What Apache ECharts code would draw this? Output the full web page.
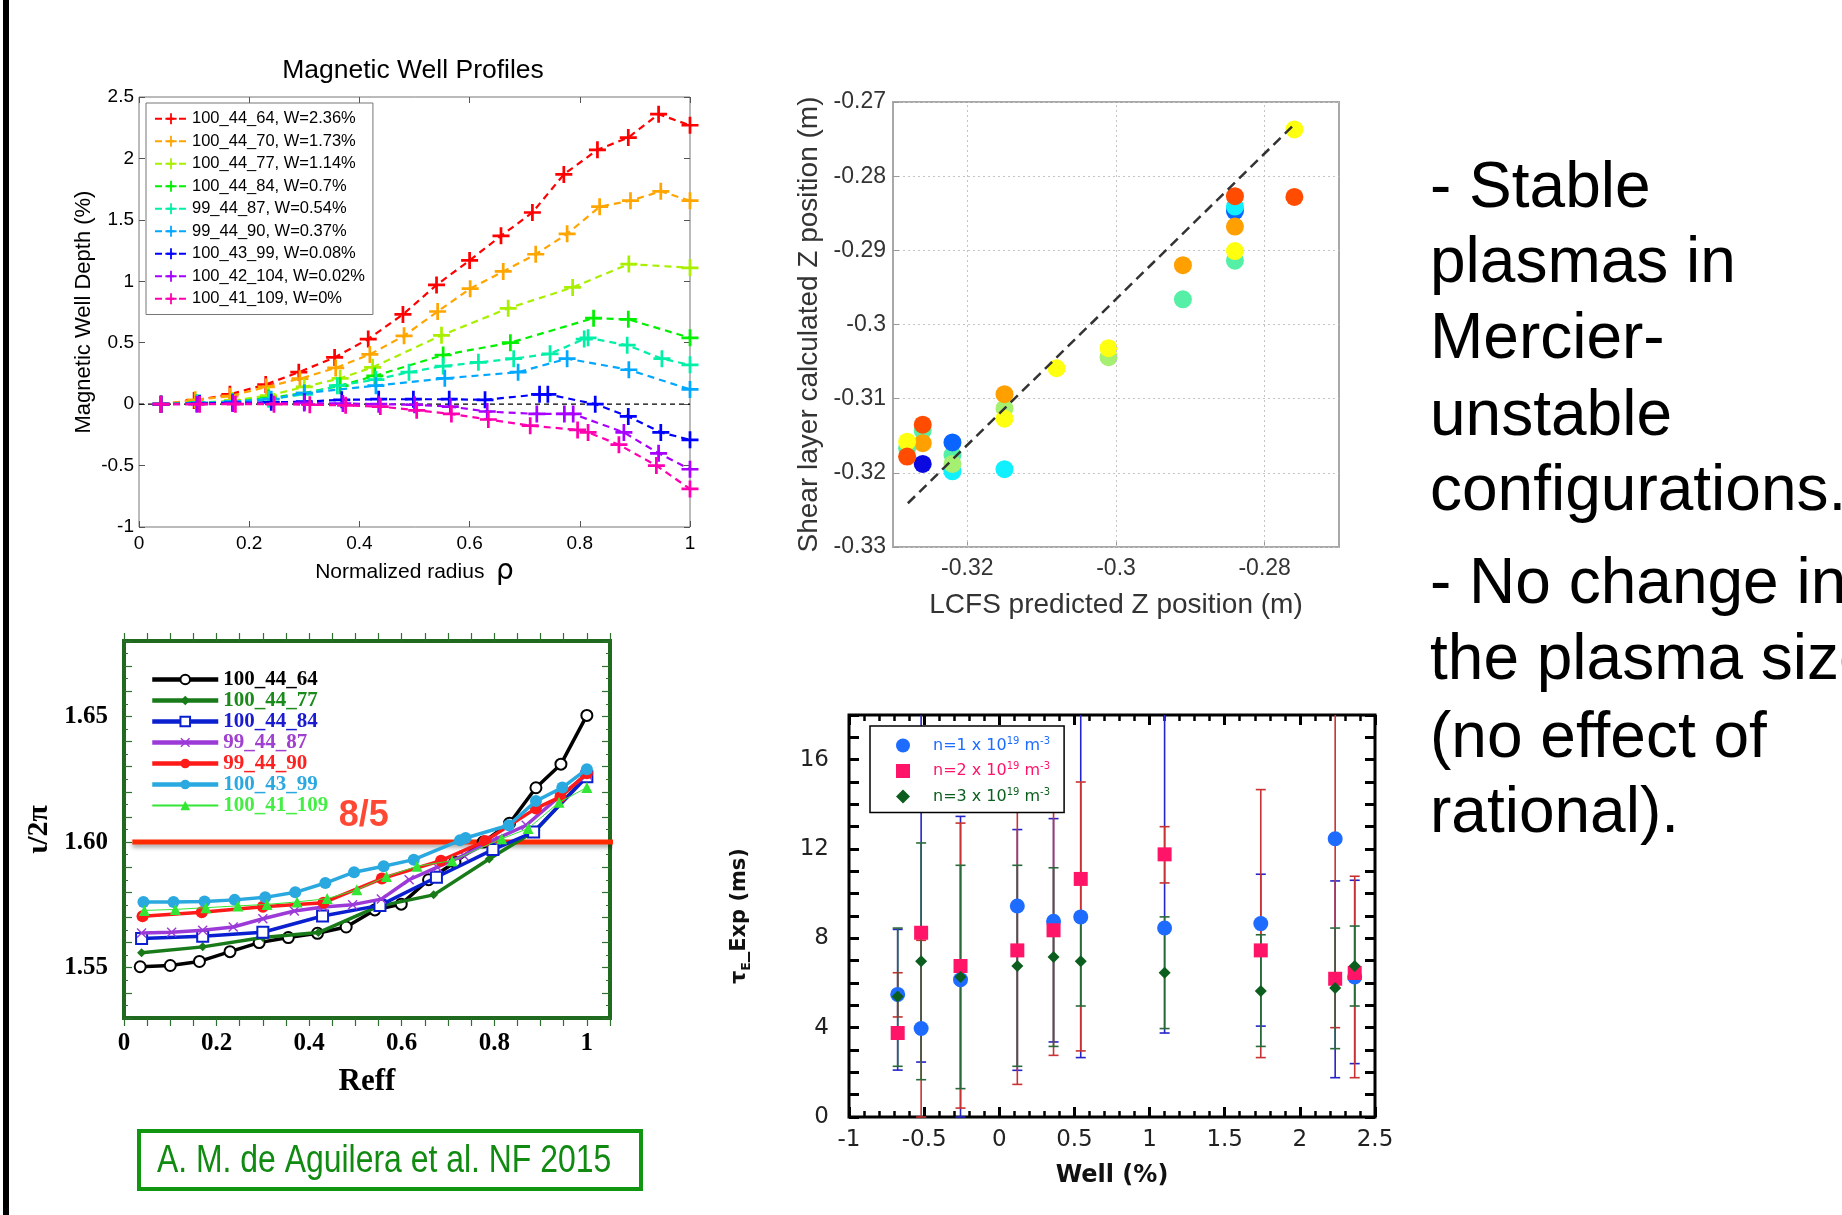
<!DOCTYPE html>
<html><head><meta charset="utf-8">
<script src="https://cdn.jsdelivr.net/npm/echarts@6/dist/echarts.min.js"></script>
<style>html,body{margin:0;padding:0;background:#fff}#c{width:1842px;height:1215px}</style>
</head><body><div id="c"></div><script>
// ---------- Chart 1: Magnetic Well Profiles ----------
const mwNames = ['100_44_64, W=2.36%','100_44_70, W=1.73%','100_44_77, W=1.14%','100_44_84, W=0.7%','99_44_87, W=0.54%','99_44_90, W=0.37%','100_43_99, W=0.08%','100_42_104, W=0.02%','100_41_109, W=0%'];
const mwX64 = [0.04,0.10,0.165,0.23,0.29,0.355,0.416,0.479,0.54,0.60,0.657,0.714,0.771,0.832,0.888,0.943,1.0];
const mwY64 = [0,0.03,0.08,0.16,0.26,0.38,0.53,0.73,0.97,1.17,1.37,1.56,1.87,2.07,2.17,2.36,2.27];
const mwX70 = [0.04,0.102,0.165,0.231,0.292,0.357,0.419,0.481,0.542,0.601,0.661,0.72,0.777,0.836,0.892,0.947,1.0];
const mwY70 = [0,0.035,0.065,0.14,0.207,0.295,0.405,0.556,0.754,0.94,1.08,1.22,1.386,1.607,1.656,1.732,1.656];
const mwX77 = [0.04,0.105,0.17,0.235,0.30,0.365,0.424,0.549,0.67,0.787,0.889,1.0];
const mwY77 = [0,0.01,0.03,0.07,0.14,0.21,0.30,0.56,0.78,0.95,1.14,1.11];
const mwX84 = [0.04,0.105,0.17,0.235,0.30,0.365,0.428,0.552,0.674,0.825,0.888,1.0];
const mwY84 = [0,0.01,0.02,0.05,0.09,0.15,0.23,0.40,0.50,0.70,0.69,0.54];
const mwX87 = [0.04,0.105,0.17,0.235,0.30,0.36,0.43,0.49,0.552,0.616,0.68,0.746,0.808,0.815,0.886,0.949,1.0];
const mwY87 = [0,0.01,0.02,0.04,0.08,0.15,0.20,0.26,0.31,0.34,0.37,0.41,0.53,0.54,0.48,0.37,0.32];
const mwX90 = [0.04,0.11,0.17,0.24,0.30,0.43,0.555,0.688,0.777,0.889,1.0];
const mwY90 = [0,0.01,0.02,0.04,0.09,0.15,0.21,0.26,0.37,0.28,0.12];
const mwX99 = [0.04,0.11,0.17,0.24,0.30,0.368,0.435,0.498,0.563,0.628,0.727,0.742,0.828,0.888,0.947,1.0];
const mwY99 = [0,0.005,0.01,0.015,0.02,0.035,0.04,0.04,0.04,0.035,0.08,0.08,0.0,-0.10,-0.23,-0.29];
const mwX104 = [0.04,0.105,0.17,0.30,0.37,0.435,0.50,0.565,0.632,0.722,0.772,0.788,0.88,0.943,1.0];
const mwY104 = [0,0,0.005,0.01,0.005,0,-0.005,-0.02,-0.06,-0.08,-0.08,-0.08,-0.23,-0.40,-0.53];
const mwX109 = [0.04,0.11,0.175,0.245,0.31,0.375,0.438,0.504,0.567,0.634,0.71,0.796,0.815,0.871,0.939,1.0];
const mwY109 = [0,0,0,0,-0.005,-0.01,-0.02,-0.05,-0.08,-0.125,-0.175,-0.21,-0.23,-0.33,-0.50,-0.69];
const mwXs = [mwX64,mwX70,mwX77,mwX84,mwX87,mwX90,mwX99,mwX104,mwX109];
const mwYs = [mwY64,mwY70,mwY77,mwY84,mwY87,mwY90,mwY99,mwY104,mwY109];
const zeroX = [0,1], zeroY = [0,0];

// ---------- Chart 2: shear layer vs LCFS ----------
const slX = [-0.276,-0.276,-0.284,-0.284,-0.284,-0.284,-0.284,-0.284,-0.291,-0.291,-0.301,-0.301,-0.308,-0.315,-0.315,-0.315,-0.315,-0.322,-0.322,-0.322,-0.322,-0.326,-0.326,-0.326,-0.326,-0.3281,-0.3281,-0.3281];
const slY = [-0.2737,-0.2828,-0.2847,-0.2841,-0.2827,-0.2868,-0.2914,-0.2901,-0.2920,-0.2966,-0.3044,-0.3032,-0.3059,-0.3113,-0.3094,-0.3127,-0.3195,-0.3198,-0.3176,-0.3188,-0.3159,-0.3143,-0.3135,-0.3160,-0.3188,-0.3167,-0.3158,-0.3178];
const slGroup = [5,7,1,2,7,6,3,5,6,3,4,5,5,4,6,5,2,2,3,4,1,3,7,6,0,3,5,7];
const fitX = [-0.328,-0.2761];
const fitY = [-0.3241,-0.2731];
const slTicks = [-0.32,-0.30,-0.28];

// ---------- Chart 3: iota profiles ----------
const ioNames = ['100_44_64','100_44_77','100_44_84','99_44_87','99_44_90','100_43_99','100_41_109'];
const ioX64 = [0.035,0.1,0.163,0.229,0.292,0.355,0.418,0.48,0.542,0.599,0.658,0.715,0.776,0.833,0.89,0.944,1.0];
const ioY64 = [1.5504,1.5509,1.5525,1.5564,1.5600,1.5620,1.5637,1.5662,1.5730,1.5753,1.5850,1.5920,1.6000,1.6075,1.6216,1.6310,1.6504];
const ioX77 = [0.038,0.17,0.3,0.42,0.549,0.669,0.789,0.89,1.0];
const ioY77 = [1.5560,1.5583,1.5620,1.5640,1.5744,1.5790,1.5933,1.6047,1.6265];
const ioX84 = [0.038,0.17,0.3,0.429,0.553,0.675,0.797,0.885,1.0];
const ioY84 = [1.5616,1.5625,1.5641,1.5706,1.5748,1.5860,1.5970,1.6040,1.6260];
const ioX87 = [0.038,0.103,0.17,0.236,0.3,0.368,0.431,0.494,0.556,0.616,0.677,0.734,0.797,0.869,0.94,1.0];
const ioY87 = [1.5638,1.5641,1.5649,1.5662,1.5695,1.5726,1.5742,1.5751,1.5773,1.5850,1.5900,1.5947,1.6007,1.6067,1.6180,1.6268];
const ioX90 = [0.04,0.168,0.3,0.431,0.557,0.685,0.78,0.89,0.943,1.0];
const ioY90 = [1.5705,1.5721,1.5743,1.5759,1.5855,1.5926,1.6004,1.6134,1.6180,1.6274];
const ioX99 = [0.042,0.107,0.174,0.239,0.305,0.37,0.435,0.497,0.561,0.626,0.726,0.738,0.831,0.89,0.947,1.0];
const ioY99 = [1.5762,1.5762,1.5764,1.5770,1.5780,1.5800,1.5837,1.5880,1.5904,1.5930,1.6007,1.6016,1.6067,1.6163,1.6217,1.6290];
const ioX109 = [0.044,0.111,0.177,0.246,0.309,0.374,0.439,0.503,0.567,0.633,0.709,0.816,0.873,0.94,1.0];
const ioY109 = [1.5728,1.5732,1.5739,1.5746,1.5752,1.5762,1.5775,1.5810,1.5863,1.5904,1.5926,1.6013,1.6054,1.6158,1.6217];
const ioXs = [ioX64,ioX77,ioX84,ioX87,ioX90,ioX99,ioX109];
const ioYs = [ioY64,ioY77,ioY84,ioY87,ioY90,ioY99,ioY109];
const ratX = [0.018,1.058], ratY = [1.60,1.60];
const ratLabel = [[0.518,1.6105]];

// ---------- Chart 4: confinement time vs well ----------
const tauNames = ['n=1 x 10^19 m^-3','n=2 x 10^19 m^-3','n=3 x 10^19 m^-3'];
const tauX  = [-0.676,-0.52,-0.258,0.12,0.361,0.542,1.1,1.74,2.235,2.365];
const n1Val = [5.49,3.96,6.15,9.45,8.76,8.96,8.46,8.66,12.46,6.27];
const n1Lo  = [2.1,2.46,0,2.09,3.36,2.66,3.76,4.07,1.76,2.39];
const n1Hi  = [8.4,19,13.46,12.87,13.36,19,19,10.87,10.57,10.6];
const n2Val = [3.76,8.25,6.76,7.46,8.36,10.66,11.76,7.46,6.19,6.45];
const n2Lo  = [4.48,0,0.4,1.46,2.76,2.96,10.48,2.66,4.0,1.76];
const n2Hi  = [6.46,7.91,13.16,14.8,14.5,15.0,13.0,14.66,19,10.78];
const n3Val = [5.4,6.97,6.27,6.76,7.16,6.97,6.46,5.64,5.78,6.76];
const n3Lo  = [2.27,1.67,1.27,2.27,3.16,4.97,3.96,3.16,3.06,4.97];
const n3Hi  = [8.46,12.27,11.27,11.27,11.16,9.0,8.96,8.16,8.46,8.55];

// ---------- Slide text ----------
const bulletLines = ['- Stable','plasmas in','Mercier-','unstable','configurations.','- No change in','the plasma size','(no effect of','rational).'];
const citation = 'A. M. de Aguilera et al. NF 2015';

// ===================== styling =====================
const mwColors = ['#ff0000','#ffa500','#a8f000','#00f000','#00f0a8','#00a8ff','#0000ff','#a800ff','#ff00b0'];
const slPalette = ['#0a0ae0','#0a64ff','#10f0ff','#55f0a5','#a5f070','#ffff10','#ffa000','#ff4c00'];
const ioColors = ['#000000','#187a18','#0a1fd0','#9c3ad8','#ff1a1a','#2aa8e0','#33e633'];
const ioText = ['#000000','#1a8a1a','#1a1ad0','#a040d0','#ff2020','#2aa8e0','#44ee44'];
const ioSym = ['emptyCircle','diamond','emptyRect','path://M1,0L5,4L9,0L10,1L6,5L10,9L9,10L5,6L1,10L0,9L4,5L0,1Z','circle','circle','triangle'];
const ioSymSize = [11,9,11,10,12,12,11];
const ioWidth = [3.5,3.5,3.5,3.5,3.5,3.5,1];
const tauColors = ['#1e6cff','#ff1468','#0b5e1e'];
const tauBarColors = ['#2424c8','#c83232','#2a6a3a'];
const tauSym = ['circle','rect','diamond'];
const tauSymSize = [15,14,12];
const PLUS = 'path://M4.2,0H5.8V4.2H10V5.8H5.8V10H4.2V5.8H0V4.2H4.2Z';
const SANS = 'Liberation Sans', SERIF = 'Liberation Serif', DJ = 'DejaVu Sans';

function pairs(xs, ys){ return xs.map((x,i)=>[x, ys[i]]); }
function tri(xs, lo, hi){ return xs.map((x,i)=>[x, lo[i], hi[i]]); }

function errRender(color){
  return function(params, api){
    const x = api.value(0), lo = api.value(1), hi = api.value(2);
    const cs = params.coordSys, top = cs.y, bot = cs.y + cs.height;
    const p1 = api.coord([x, lo]), p2 = api.coord([x, hi]);
    const y1 = Math.min(p1[1], bot), y2 = Math.max(p2[1], top);
    const st = {stroke: color, lineWidth: 1.6};
    const ch = [{type:'line', shape:{x1:p1[0], y1:y1, x2:p1[0], y2:y2}, style:st}];
    const c = 5;
    if (p1[1] <= bot + 0.5) ch.push({type:'line', shape:{x1:p1[0]-c, y1:p1[1], x2:p1[0]+c, y2:p1[1]}, style:st});
    if (p2[1] >= top - 0.5) ch.push({type:'line', shape:{x1:p2[0]-c, y1:p2[1], x2:p2[0]+c, y2:p2[1]}, style:st});
    return {type:'group', children: ch};
  };
}

const fmt1 = v => String(Math.round(v*10)/10);
const noLine = {show:false, onZero:false};
function mirrorX(grid, min, max, interval, tick, minor){
  return {gridIndex:grid, type:'value', position:'top', min, max, interval, axisLine:noLine, axisLabel:{show:false}, splitLine:{show:false}, axisTick:tick, minorTick:minor||{show:false}};
}
function mirrorY(grid, min, max, interval, tick, minor){
  return {gridIndex:grid, type:'value', position:'right', min, max, interval, axisLine:noLine, axisLabel:{show:false}, splitLine:{show:false}, axisTick:tick, minorTick:minor||{show:false}};
}
const t1 = {inside:true, length:6, lineStyle:{color:'#555', width:1}};
const t2 = {inside:true, length:6, lineStyle:{color:'#999', width:1}};
const t3 = {inside:false, length:8, lineStyle:{color:'#2f6f2f', width:1.2}};
const t3y = {inside:true, length:8, lineStyle:{color:'#2f6f2f', width:1.2}};
const m3y = {show:true, splitNumber:2, length:4, lineStyle:{color:'#2f6f2f', width:1}};
const t4 = {inside:true, length:10, lineStyle:{color:'#000', width:3}};
const m4 = {show:true, splitNumber:5, length:6, lineStyle:{color:'#000', width:2.5}};

const series = [];
// chart 1
series.push({type:'line', name:'zero', xAxisIndex:0, yAxisIndex:0, data:pairs(zeroX, zeroY), symbol:'none', silent:true, lineStyle:{color:'#000', width:1.2, type:[5,4]}, z:1});
mwNames.forEach((n,i)=>{
  series.push({type:'line', name:n, xAxisIndex:0, yAxisIndex:0, data:pairs(mwXs[i], mwYs[i]),
    symbol:PLUS, symbolSize:17, showAllSymbol:true,
    lineStyle:{color:mwColors[i], width:2.2, type:[7,5]},
    itemStyle:{color:mwColors[i]}, z:2+i});
});
// chart 2
series.push({type:'line', name:'fit', xAxisIndex:2, yAxisIndex:2, data:pairs(fitX, fitY), symbol:'none', silent:true,
  lineStyle:{color:'#333', width:2.5, type:[10,6]}, z:5,
  markLine:{silent:true, symbol:'none', label:{show:false}, lineStyle:{color:'#c4c4c4', type:[2,3], width:1},
    data: slTicks.map(v=>({xAxis:v}))}});
series.push({type:'scatter', name:'shear', xAxisIndex:2, yAxisIndex:2, data: slX.map((x,i)=>[x, slY[i], slGroup[i]]),
  symbolSize:18, itemStyle:{color: p => slPalette[p.data[2]], opacity:1}, z:4});
// chart 3
series.push({type:'line', name:'8/5', xAxisIndex:3, yAxisIndex:3, data:pairs(ratX, ratY), symbol:'none', clip:false, silent:true,
  lineStyle:{color:'#ff2a00', width:5, shadowColor:'rgba(0,0,0,0.35)', shadowBlur:4, shadowOffsetY:3}, z:2});
ioNames.forEach((n,i)=>{
  series.push({type:'line', name:n, xAxisIndex:3, yAxisIndex:3, data:pairs(ioXs[i], ioYs[i]),
    symbol:ioSym[i], symbolSize:ioSymSize[i], showAllSymbol:true,
    lineStyle:{color:ioColors[i], width:ioWidth[i]},
    itemStyle:{color:ioColors[i], borderWidth: (i===0||i===2)?1.3:0}, z:3+i});
});
series.push({type:'scatter', name:'ratlabel', xAxisIndex:3, yAxisIndex:3, data:ratLabel, symbolSize:1, silent:true,
  itemStyle:{color:'rgba(0,0,0,0)'}, z:20,
  label:{show:true, position:'inside', formatter:'8/5', color:'#ff1a00', fontSize:36, fontWeight:'bold', fontFamily:SANS}});
// chart 4
const tauVals = [n1Val,n2Val,n3Val], tauLo = [n1Lo,n2Lo,n3Lo], tauHi = [n1Hi,n2Hi,n3Hi];
[0,1,2].forEach(k=>{
  series.push({type:'custom', name:'err'+k, xAxisIndex:5, yAxisIndex:5, data:tri(tauX, tauLo[k], tauHi[k]),
    encode:{x:0, y:[1,2]}, renderItem: errRender(tauBarColors[k]), silent:true, z:2});
});
tauNames.forEach((n,k)=>{
  series.push({type:'scatter', name:n, xAxisIndex:5, yAxisIndex:5, data:pairs(tauX, tauVals[k]),
    symbol:tauSym[k], symbolSize:tauSymSize[k], itemStyle:{color:tauColors[k], opacity:1}, z:3+k});
});

const graphics = [
  {type:'rect', shape:{x:3, y:0, width:6, height:1215}, style:{fill:'#000'}},
  {type:'text', x:413, y:71, style:{text:'Magnetic Well Profiles', font:'26.5px "Liberation Sans"', fill:'#000', textAlign:'center', textVerticalAlign:'middle'}},
  {type:'rect', shape:{x:139, y:1131, width:502, height:58}, style:{fill:'none', stroke:'#109610', lineWidth:4}},
  {type:'text', x:157, y:1162, scaleX:0.84, style:{text:citation, font:'38px "Liberation Sans"', fill:'#108a10', textAlign:'left', textVerticalAlign:'middle'}}
];
const lineYs = [189,264,340,417,492,585,661,739,814];
bulletLines.forEach((t,i)=>{
  graphics.push({type:'text', x:1430, y:lineYs[i], style:{text:t, font:'64px "Liberation Sans"', fill:'#000', textAlign:'left', textVerticalAlign:'middle'}});
});

const option = {
  animation:false,
  backgroundColor:'#fff',
  textStyle:{fontFamily:SANS},
  grid:[
    {left:139, top:97, width:551, height:430, show:true, borderColor:'#777', borderWidth:1},
    {left:893, top:102, width:446, height:445, show:true, borderColor:'#a8a8a8', borderWidth:2},
    {left:124, top:641, width:486, height:377, show:true, borderColor:'#1f6a1f', borderWidth:4},
    {left:849, top:715, width:526, height:402, show:true, borderColor:'#000', borderWidth:3}
  ],
  xAxis:[
    {gridIndex:0, type:'value', min:0, max:1, interval:0.2, axisLine:noLine, axisTick:t1, splitLine:{show:false},
      axisLabel:{fontSize:19, color:'#000', margin:7, formatter:fmt1},
      name:'Normalized radius  {r|ρ}', nameLocation:'middle', nameGap:31, nameMoveOverlap:false,
      nameTextStyle:{fontSize:21, color:'#000', rich:{r:{fontSize:28, fontFamily:DJ, color:'#000'}}}},
    mirrorX(0, 0, 1, 0.2, t1),
    {gridIndex:1, type:'value', min:-0.33, max:-0.27, interval:0.01, axisLine:noLine, splitLine:{show:false},
      axisTick:{inside:true, length:6, customValues:slTicks, lineStyle:{color:'#999'}},
      axisLabel:{customValues:slTicks, fontSize:23, color:'#333', margin:10,
        formatter: v => { const k = Math.round(v*100); return (k%2===0 && k>-33 && k<-27) ? String(k/100) : ''; }},
      name:'LCFS predicted Z position (m)', nameLocation:'middle', nameGap:44, nameMoveOverlap:false,
      nameTextStyle:{fontSize:28, color:'#333'}},
    {gridIndex:2, type:'value', min:0, max:1.05, interval:0.05, axisLine:noLine, axisTick:t3, splitLine:{show:false},
      axisLabel:{fontFamily:SERIF, fontWeight:'bold', fontSize:25, color:'#000', margin:13,
        formatter: v => { const k = Math.round(v*100); return k%20===0 ? String(k/100) : ''; }},
      name:'Reff', nameLocation:'middle', nameGap:48, nameMoveOverlap:false,
      nameTextStyle:{fontFamily:SERIF, fontWeight:'bold', fontSize:31, color:'#000'}},
    mirrorX(2, 0, 1.05, 0.05, t3),
    {gridIndex:3, type:'value', min:-1, max:2.5, interval:0.5, axisLine:noLine, axisTick:t4, minorTick:m4, splitLine:{show:false}, minorSplitLine:{show:false},
      axisLabel:{fontFamily:DJ, fontSize:23, color:'#222', margin:12, formatter:fmt1},
      name:'Well (%)', nameLocation:'middle', nameGap:47, nameMoveOverlap:false,
      nameTextStyle:{fontFamily:DJ, fontWeight:'bold', fontSize:24, color:'#111'}},
    mirrorX(3, -1, 2.5, 0.5, t4, m4)
  ],
  yAxis:[
    {gridIndex:0, type:'value', min:-1, max:2.5, interval:0.5, axisLine:noLine, axisTick:t1, splitLine:{show:false},
      axisLabel:{fontSize:19, color:'#000', margin:5, formatter:fmt1},
      name:'Magnetic Well Depth (%)', nameLocation:'middle', nameGap:44, nameMoveOverlap:false,
      nameTextStyle:{fontSize:22, color:'#000'}},
    mirrorY(0, -1, 2.5, 0.5, t1),
    {gridIndex:1, type:'value', min:-0.33, max:-0.27, interval:0.01, axisLine:noLine, axisTick:t2,
      splitLine:{show:true, lineStyle:{color:'#c4c4c4', type:[2,3], width:1}},
      axisLabel:{fontSize:23, color:'#333', margin:7, formatter: v => String(Math.round(v*100)/100)},
      name:'Shear layer calculated Z position (m)', nameLocation:'middle', nameGap:70, nameMoveOverlap:false,
      nameTextStyle:{fontSize:28, color:'#333'}},
    {gridIndex:2, type:'value', min:1.53, max:1.68, interval:0.01, axisLine:noLine, axisTick:t3y, minorTick:m3y, splitLine:{show:false}, minorSplitLine:{show:false},
      axisLabel:{fontFamily:SERIF, fontWeight:'bold', fontSize:25, color:'#000', margin:16,
        formatter: v => { const k = Math.round(v*100); return k%5===0 ? (k/100).toFixed(2) : ''; }},
      name:'ι/2π', nameLocation:'middle', nameGap:70, nameMoveOverlap:false,
      nameTextStyle:{fontFamily:SERIF, fontWeight:'bold', fontSize:30, color:'#000'}},
    mirrorY(2, 1.53, 1.68, 0.01, t3y, m3y),
    {gridIndex:3, type:'value', min:0, max:18, interval:1, axisLine:noLine, axisTick:t4, splitLine:{show:false},
      axisLabel:{fontFamily:DJ, fontSize:23, color:'#222', margin:20,
        formatter: v => (Math.round(v)%4===0 ? String(Math.round(v)) : '')},
      name:'{t|τ}{s|E}{t|_Exp (ms)}', nameLocation:'middle', nameGap:96, nameMoveOverlap:false,
      nameTextStyle:{fontFamily:DJ, fontWeight:'bold', fontSize:21, color:'#111',
        rich:{t:{fontFamily:DJ, fontWeight:'bold', fontSize:21, color:'#111'}, s:{fontFamily:DJ, fontWeight:'bold', fontSize:12, color:'#111', padding:[14,0,0,0]}}}},
    mirrorY(3, 0, 18, 1, t4)
  ],
  legend:[
    {left:146, top:103, orient:'vertical', selectedMode:false, data:mwNames,
      itemWidth:32, itemHeight:14, itemGap:3, padding:[6,8,6,8],
      borderColor:'#777', borderWidth:1, backgroundColor:'#fff',
      textStyle:{fontSize:16.5, color:'#000', fontFamily:SANS, lineHeight:19.5}},
    {left:150, top:669, orient:'vertical', selectedMode:false,
      data: ioNames.map((n,i)=>({name:n, textStyle:{color:ioText[i]}, lineStyle:{width:ioWidth[i]+1, color:ioColors[i]}})),
      itemWidth:66, itemHeight:12, itemGap:0, padding:0,
      textStyle:{fontFamily:SERIF, fontWeight:'bold', fontSize:21, lineHeight:20}},
    {left:870, top:726, orient:'vertical', selectedMode:false,
      data: tauNames.map((n,i)=>({name:n, textStyle:{color:tauColors[i]}})),
      itemWidth:14, itemHeight:14, itemGap:8, padding:[10,14,8,26],
      borderColor:'#000', borderWidth:1.5, backgroundColor:'#fff',
      formatter: name => { const d = name.charAt(2); return '{b|n=' + d + ' x 10}{sup|19}{b| m}{sup|-3}'; },
      textStyle:{fontFamily:DJ, fontSize:16, padding:[0,0,0,18],
        rich:{b:{fontFamily:DJ, fontSize:16}, sup:{fontFamily:DJ, fontSize:10, padding:[0,0,9,0]}}}}
  ],
  graphic: graphics,
  series: series
};
const chart = echarts.init(document.getElementById('c'), null, {renderer:'canvas'});
chart.setOption(option);
</script></body></html>
